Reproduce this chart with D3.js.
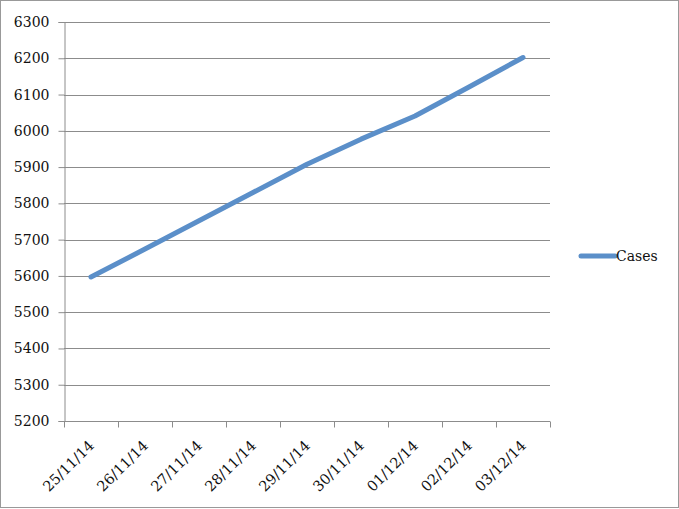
<!DOCTYPE html>
<html><head><meta charset="utf-8">
<script src="https://cdn.jsdelivr.net/npm/d3@7"></script>
<style>body{margin:0;background:#fff}svg{display:block}</style>
</head><body>
<svg id="c" width="679" height="509"></svg>
<script>
const categories = ["25/11/14","26/11/14","27/11/14","28/11/14","29/11/14","30/11/14","01/12/14","02/12/14","03/12/14"];
const cases = [5597,5674,5752,5830,5908,5977,6041,6121,6202];
const yTicks = [5200,5300,5400,5500,5600,5700,5800,5900,6000,6100,6200,6300];
const seriesName = "Cases";

(function(){
const svg = d3.select("#c");
const font = "'DejaVu Serif', serif";
const pL = 64, pR = 550, pT = 22, pB = 421;
const x = d3.scaleBand().domain(categories).range([pL, pR]);
const y = d3.scaleLinear().domain([5200, 6300]).range([pB, pT]);
const grey = "#8c8c8c";

svg.append("rect").attr("x",0.5).attr("y",0.5).attr("width",678).attr("height",507)
  .attr("fill","none").attr("stroke","#999");

// gridlines
svg.append("g").selectAll("line").data(yTicks.slice(1)).join("line")
  .attr("x1", pL).attr("x2", pR)
  .attr("y1", d => Math.round(y(d)) + 0.5).attr("y2", d => Math.round(y(d)) + 0.5)
  .attr("stroke", grey).attr("stroke-width", 1);

// y axis
const ya = svg.append("g").attr("transform", `translate(${pL+0.5},0)`)
  .call(d3.axisLeft(y).tickValues(yTicks).tickSize(6).tickPadding(9).tickFormat(d3.format("d")));
ya.select(".domain").attr("stroke", grey);
ya.selectAll(".tick line").attr("stroke", grey);
ya.selectAll(".tick text").attr("font-family", font).attr("font-size", 14).attr("fill", "#111");

// x axis
const xa = svg.append("g").attr("transform", `translate(0,${pB+0.5})`)
  .call(d3.axisBottom(x).tickSize(0).tickPadding(0));
xa.select(".domain").attr("stroke", grey).attr("d", `M${pL},0H${pR}`);
xa.selectAll(".tick line").remove();
const bounds = categories.map(c => x(c)).concat([pR]);
xa.selectAll(".btick").data(bounds).join("line").attr("class","btick")
  .attr("x1", d => Math.round(d)+0.5).attr("x2", d => Math.round(d)+0.5)
  .attr("y1", 0).attr("y2", 6).attr("stroke", grey);
xa.selectAll(".tick text")
  .attr("font-family", font).attr("font-size", 14.5).attr("fill", "#111")
  .attr("text-anchor", "end").attr("dy", null).attr("y", 0)
  .attr("transform", "translate(4,25) rotate(-45)");

// line
const line = d3.line().x((d,i) => x(categories[i]) + x.bandwidth()/2).y(d => y(d));
svg.append("path").datum(cases).attr("d", line)
  .attr("fill","none").attr("stroke","#5b8fc9").attr("stroke-width",5)
  .attr("stroke-linecap","round").attr("stroke-linejoin","round");

// legend
const lg = svg.append("g").attr("transform","translate(581,256)");
lg.append("line").attr("x1",0).attr("x2",34).attr("y1",0).attr("y2",0)
  .attr("stroke","#5b8fc9").attr("stroke-width",5).attr("stroke-linecap","round");
lg.append("text").attr("x",35).attr("y",5).text(seriesName)
  .attr("font-family", font).attr("font-size", 14).attr("fill","#111");
})();
</script>
</body></html>
